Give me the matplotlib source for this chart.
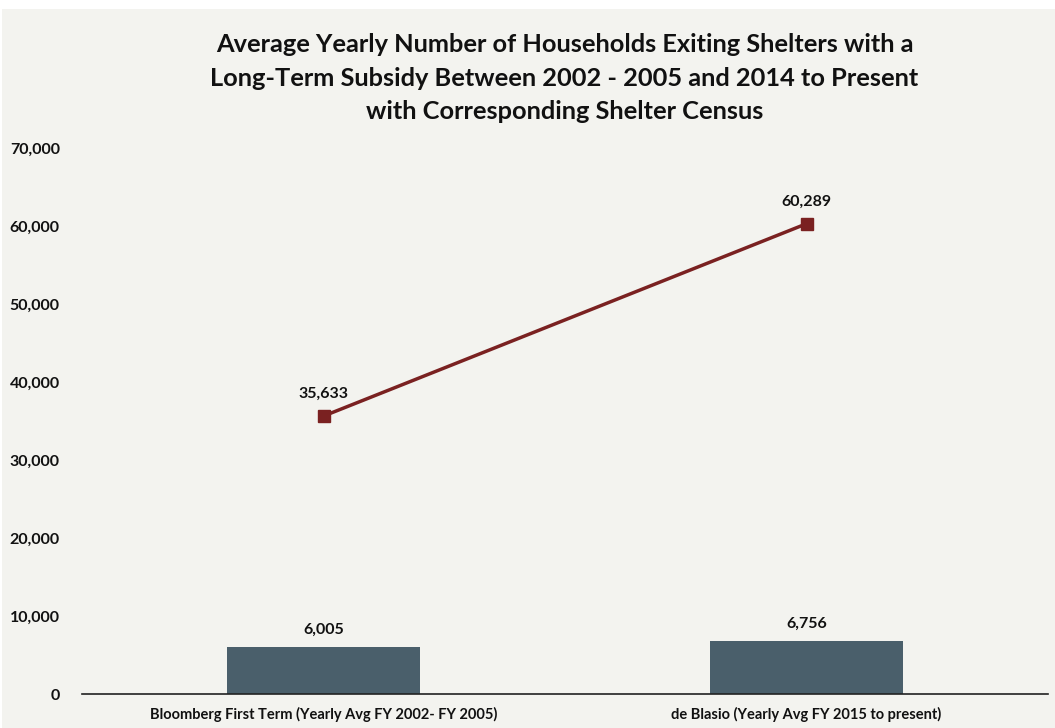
import matplotlib
matplotlib.use("Agg")
import matplotlib.pyplot as plt
from matplotlib.patches import Rectangle

# data
categories = ['Bloomberg First Term (Yearly Avg FY 2002- FY 2005)',
              'de Blasio (Yearly Avg FY 2015 to present)']
exits = [6005, 6756]          # households exiting with subsidy (bars)
census = [35633, 60289]       # shelter census (line)
yticks = [0, 10000, 20000, 30000, 40000, 50000, 60000, 70000]

bg = '#f3f3ef'
bar_color = '#4a5f6b'
line_color = '#7a2121'

plt.rcParams['font.family'] = ['Lato', 'DejaVu Sans']

fig = plt.figure(figsize=(10.55, 7.28), dpi=100, facecolor='white')
# the light panel behind the chart
fig.patches.append(Rectangle((2 / 1055, 0), 1, 1 - 9 / 728, transform=fig.transFigure,
                             facecolor=bg, edgecolor='none', zorder=-1))

ax = fig.add_axes([82 / 1055, 1 - 694 / 728, 966 / 1055, (694 - 148) / 728])
ax.set_facecolor(bg)

x = range(len(categories))
ax.bar(x, exits, width=0.4, color=bar_color, zorder=2)
for i, v in zip(x, exits):
    ax.text(i, v + 1300, f'{v:,}', ha='center', va='bottom', fontsize=11.5,
            fontweight='bold', color='#111111')

ax.plot(x, census, color=line_color, lw=2.5, marker='s', markersize=8, zorder=3)
for i, v in zip(x, census):
    ax.text(i, v + 1900, f'{v:,}', ha='center', va='bottom', fontsize=11.5,
            fontweight='bold', color='#111111')

ax.set_xlim(-0.5, 1.5)
ax.set_ylim(0, 70000)
ax.set_yticks(yticks)
ax.set_yticklabels([f'{t:,}' for t in yticks], fontsize=11.5, fontweight='bold')
ax.set_xticks(list(x))
ax.set_xticklabels(categories, fontsize=10.5, fontweight='bold')
ax.tick_params(axis='both', length=0, colors='#111111')
ax.tick_params(axis='y', pad=16)
ax.tick_params(axis='x', pad=9)
for s in ['top', 'right', 'left']:
    ax.spines[s].set_visible(False)
ax.spines['bottom'].set_color('#222222')
ax.spines['bottom'].set_linewidth(1.2)

fig.text(0.535, 1 - 78 / 728,
         'Average Yearly Number of Households Exiting Shelters with a\n'
         'Long-Term Subsidy Between 2002 - 2005 and 2014 to Present\n'
         'with Corresponding Shelter Census',
         ha='center', va='center', fontsize=18.3, fontweight='bold',
         linespacing=1.55, color='#111111')

fig.savefig('out.png', dpi=100, facecolor='white')
